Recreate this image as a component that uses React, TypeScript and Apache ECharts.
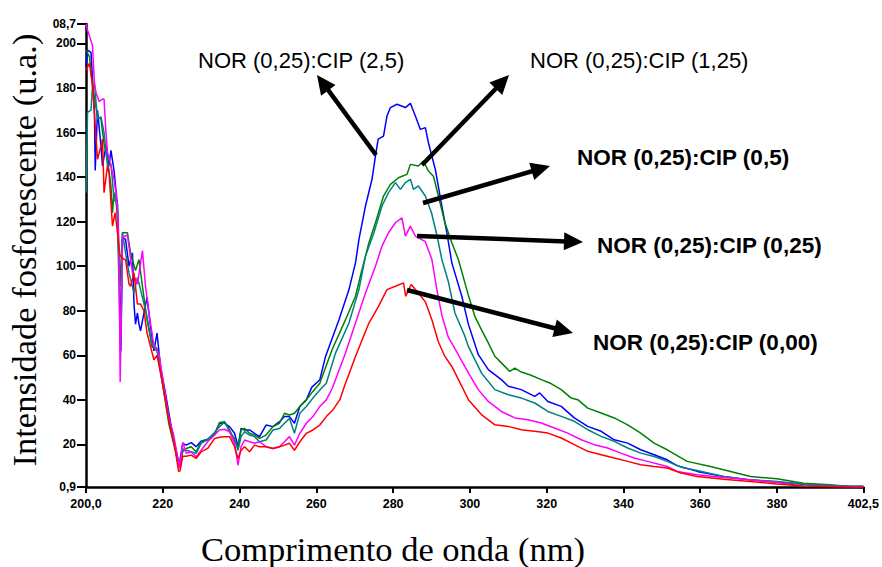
import React, { useEffect, useRef } from "react";
import * as echarts from "echarts";

// ---- Axis ticks ----
const wavelengthTicks = [200, 220, 240, 260, 280, 300, 320, 340, 360, 380, 402.5];
const wavelengthTickLabels = ["200,0", "220", "240", "260", "280", "300", "320", "340", "360", "380", "402,5"];
const intensityTicks = [0.9, 20, 40, 60, 80, 100, 120, 140, 160, 180, 200, 208.7];
const intensityTickLabels = ["0,9", "20", "40", "60", "80", "100", "120", "140", "160", "180", "200", "08,7"];

// ---- Series: [wavelength (nm), intensity (u.a.)] ----
const cip25: number[][] = [
  [200.0, 190], [200.4, 197], [201.3, 196], [202.2, 169], [202.4, 143], [203.0, 170], [203.9, 154], [204.3, 145],
  [205.2, 154], [206.0, 145], [206.5, 152], [207.3, 143], [208.2, 127], [208.8, 91], [209.1, 62], [209.5, 113],
  [210.3, 112], [211.2, 100], [212.1, 106], [212.5, 83], [212.9, 74], [213.4, 79], [213.8, 74], [214.2, 71],
  [215.1, 79], [215.9, 86], [216.8, 73], [217.7, 62], [218.5, 70], [219.4, 55], [220.7, 43], [222.4, 26],
  [224.2, 10], [225.2, 20.5], [226.1, 19.7], [227.4, 20.8], [228.7, 19], [230.0, 21.5], [231.7, 22.3], [233.5, 25],
  [234.8, 29.5], [236.1, 29.5], [237.4, 28], [238.7, 25], [239.6, 19], [240.4, 27.2], [241.3, 26.5], [242.6, 26.5],
  [243.9, 25], [245.2, 23.5], [246.9, 28.7], [248.7, 28], [250.4, 30.2], [251.7, 32.5], [253.0, 32.5], [254.3, 29.5],
  [255.7, 37], [257.4, 40], [258.8, 45.6], [260.9, 49], [262.4, 59.5], [265.9, 76], [268.5, 89.5], [270.2, 101.5],
  [271.1, 112], [272.8, 127], [274.5, 139], [275.4, 149.4], [276.1, 157], [277.5, 158.4], [278.4, 167.4], [279.3, 171.2],
  [281.0, 172.7], [283.2, 171.2], [284.5, 173.1], [285.8, 167.4], [287.1, 161.4], [288.4, 162.2], [289.2, 155.4], [291.0, 143.4],
  [292.7, 127], [294.0, 115], [295.3, 101.5], [297.9, 86.5], [299.6, 74], [302.2, 60.3], [304.8, 53.6], [308.2, 49.1],
  [310.0, 46.1], [313.4, 44.6], [316.9, 41.6], [318.2, 43.1], [320.3, 39.3], [323.8, 37.1], [327.2, 31.9], [330.7, 28.1],
  [334.2, 25.9], [337.6, 22.1], [341.1, 20.6], [344.5, 17.6], [348.0, 15.4], [351.4, 13.1], [354.0, 10.5], [359.2, 7.9],
  [366.1, 5.6], [373.0, 4.1], [380.0, 3.1], [388.6, 1.9], [397.3, 1.1], [402.5, 0.9],
];

const cip125: number[][] = [
  [200.0, 197], [200.9, 194], [201.7, 181], [203.0, 167], [203.9, 166], [204.7, 155], [205.6, 148], [206.5, 136],
  [206.9, 124], [207.3, 133], [207.8, 130], [208.2, 121], [208.8, 91], [209.5, 115], [210.8, 115], [211.6, 106],
  [212.9, 98], [213.8, 103], [214.7, 91], [215.9, 76], [217.2, 64], [218.5, 62], [219.8, 48.6], [221.6, 29],
  [223.3, 17], [224.1, 11], [224.4, 9.8], [225.2, 16.7], [226.1, 18.2], [227.4, 19], [228.7, 16.7], [230.0, 21.2],
  [231.7, 22], [233.5, 24.2], [234.8, 29.8], [236.1, 30.2], [237.4, 26.5], [238.7, 22], [239.6, 18.2], [240.4, 26.5],
  [241.3, 27.2], [242.6, 25], [243.9, 24.2], [245.2, 22.7], [246.9, 24.2], [248.7, 28], [250.4, 29.5], [251.7, 34],
  [253.0, 33.2], [254.3, 34], [255.7, 37], [257.4, 40], [259.1, 43.8], [260.9, 47.5], [264.1, 62.5], [267.6, 76],
  [270.2, 86.5], [271.9, 98.5], [273.7, 110.5], [275.4, 119.5], [277.5, 131.5], [279.3, 136.7], [281.4, 139.7], [283.6, 141.2],
  [284.5, 145.7], [286.6, 145], [287.9, 147.2], [289.2, 142.7], [290.5, 140.4], [291.8, 131.5], [293.5, 119.5], [295.3, 110.5],
  [297.0, 103], [299.6, 87], [301.3, 77.5], [303.0, 71.5], [304.8, 65.6], [306.5, 59.6], [308.2, 56.6], [310.4, 52.8],
  [311.7, 54.3], [313.4, 52.5], [315.6, 51.3], [318.6, 49.1], [320.8, 47.6], [323.8, 44.6], [326.4, 40.8], [328.1, 40.1],
  [330.7, 36.3], [334.2, 34.1], [337.6, 31.9], [341.1, 28.8], [344.5, 25.1], [348.0, 20.6], [351.4, 17.6], [356.6, 12.4],
  [362.7, 10.1], [367.9, 7.9], [373.1, 5.6], [380.0, 4.6], [386.9, 2.6], [393.8, 1.9], [399.0, 1.1], [402.5, 1.0],
];

const cip05: number[][] = [
  [200.0, 133], [200.4, 169], [201.3, 170], [201.7, 181], [202.2, 182], [203.0, 166], [203.9, 167], [204.7, 160],
  [205.6, 145], [206.5, 146], [207.3, 130], [208.2, 128], [208.4, 106], [209.0, 61], [209.5, 115], [210.3, 106],
  [211.2, 97], [212.5, 88], [213.4, 95], [214.7, 86], [215.9, 77], [217.2, 65], [218.5, 63], [219.8, 48.6],
  [221.6, 32], [223.3, 18.6], [224.1, 12.5], [224.3, 9.6], [225.2, 18], [226.1, 17.4], [227.4, 16.7], [228.7, 16],
  [230.0, 20.5], [231.7, 22.3], [233.5, 25.3], [234.8, 28], [236.1, 30.2], [237.4, 25.7], [238.7, 22.7], [239.6, 17.4],
  [240.4, 23.5], [241.3, 25.7], [242.6, 24.2], [243.9, 23.5], [245.2, 21.2], [246.9, 22], [248.7, 26.5], [250.4, 27.2],
  [251.7, 29.5], [253.0, 31.7], [254.3, 25], [255.7, 34], [257.4, 37], [259.1, 40.8], [261.2, 45], [262.6, 47.5],
  [265.0, 61], [268.5, 74.5], [271.1, 89.5], [272.8, 104.5], [275.0, 115], [277.1, 127], [278.8, 133], [280.6, 137.5],
  [281.9, 134.5], [283.2, 137.5], [284.5, 139], [285.3, 134.5], [286.6, 136], [288.4, 131.5], [290.0, 124], [291.4, 114],
  [292.7, 103], [294.4, 93], [296.1, 79], [298.7, 68.6], [299.6, 64], [303.0, 52.1], [306.5, 44.6], [310.0, 42.3],
  [313.4, 40.8], [316.9, 38.6], [320.3, 34.8], [323.8, 32.6], [327.2, 30.4], [330.7, 26.6], [334.2, 23.6], [337.6, 21.4],
  [341.1, 18.4], [344.5, 16.1], [348.0, 14.6], [351.4, 12.4], [355.0, 9.8], [359.2, 8.3], [366.1, 5.6], [373.0, 4.1],
  [380.0, 3.4], [388.6, 1.9], [397.3, 1.4], [402.5, 1.4],
];

const cip025: number[][] = [
  [200.0, 208.7], [200.4, 206], [201.7, 199], [202.2, 182], [202.6, 178], [203.4, 174], [204.3, 175], [204.7, 175],
  [205.2, 160], [205.6, 151], [206.5, 145], [207.3, 139], [207.8, 133], [208.2, 125], [208.4, 121], [208.6, 106],
  [208.9, 48], [209.2, 80], [209.5, 113], [210.8, 114], [212.1, 97], [213.4, 92], [214.7, 107], [215.5, 91],
  [216.4, 79], [217.7, 64], [219.0, 61], [220.3, 46], [221.6, 32], [222.8, 24.5], [224.4, 9.2], [225.2, 21],
  [226.1, 16], [227.4, 16.7], [228.7, 14.4], [230.0, 17.4], [231.7, 21.2], [233.5, 24.2], [234.8, 26.5], [236.1, 26.8],
  [237.4, 25.7], [238.7, 20.5], [239.6, 10.7], [240.4, 19], [241.3, 22], [242.6, 21.2], [243.9, 20.5], [245.2, 21.2],
  [246.9, 19], [248.7, 18.2], [250.4, 19], [251.7, 21.2], [253.0, 23.5], [254.3, 19.7], [255.7, 25], [257.4, 29.5],
  [259.1, 32.5], [260.9, 37], [262.6, 40], [264.1, 45], [267.6, 61], [270.2, 74.5], [272.8, 88], [275.4, 100],
  [277.1, 109], [278.8, 115], [280.6, 119.5], [282.3, 121.7], [283.2, 113.5], [284.5, 118], [285.8, 113.5], [288.4, 111],
  [290.1, 103], [291.4, 89.5], [292.7, 78], [294.4, 68], [296.1, 63], [299.6, 52.1], [302.2, 44.6], [304.8, 39.3],
  [308.2, 34.8], [311.7, 31.9], [315.1, 31.1], [318.6, 29.6], [322.0, 27.4], [325.5, 25.1], [329.0, 22.1], [332.4, 19.9],
  [335.9, 18.4], [339.3, 16.1], [342.8, 13.9], [346.3, 12.4], [351.4, 10.1], [354.0, 7.9], [359.2, 6.4], [366.1, 5.2],
  [373.0, 4.1], [380.0, 2.9], [386.9, 1.4], [396.4, 1.1], [402.5, 0.9],
];

const cip000: number[][] = [
  [200.0, 188], [200.9, 191], [201.7, 181], [202.6, 158], [203.0, 148], [203.9, 154], [204.3, 157], [204.7, 133],
  [205.6, 145], [206.0, 142], [206.9, 118], [207.6, 124], [208.2, 115], [208.8, 105], [209.9, 103], [210.3, 103],
  [211.2, 92], [211.6, 91], [212.5, 97], [213.4, 83], [214.2, 83], [215.1, 80], [215.9, 70], [217.7, 58],
  [218.5, 60], [219.8, 48.6], [221.6, 30.8], [223.3, 17], [224.1, 8], [224.5, 8.1], [225.2, 14.7], [226.1, 14.7],
  [227.4, 15.2], [228.7, 13.7], [230.0, 16.7], [231.7, 18.2], [233.5, 22.7], [234.8, 23.2], [236.1, 23.5], [237.4, 23.5],
  [238.7, 19], [239.6, 13.7], [240.4, 17.4], [241.3, 19], [242.6, 16.7], [243.9, 19.7], [245.2, 19], [246.9, 19],
  [248.7, 18.2], [250.4, 19], [251.7, 19.7], [253.0, 20.5], [254.3, 17.4], [255.7, 21.2], [257.4, 25], [259.1, 26.5],
  [260.9, 28.7], [262.6, 32.5], [264.3, 35.5], [266.1, 40], [267.3, 46], [270.2, 59.5], [273.7, 74.5], [276.2, 82],
  [278.4, 89.5], [280.6, 91], [282.7, 92.5], [283.3, 86.5], [284.7, 91.8], [286.6, 88], [288.4, 84], [290.1, 76],
  [291.8, 66], [293.5, 59.5], [295.3, 55], [297.9, 46.1], [299.6, 40.1], [303.0, 33.4], [306.5, 28.8], [310.0, 28.1],
  [313.4, 26.6], [316.9, 25.9], [320.3, 25.1], [323.8, 22.9], [327.2, 19.9], [330.7, 16.9], [334.2, 15.4], [337.6, 13.9],
  [341.1, 12.4], [344.5, 10.9], [348.0, 10.1], [351.4, 9.4], [355.0, 7.2], [359.2, 5.6], [366.1, 4.4], [373.0, 3.4],
  [380.0, 2.3], [386.9, 1.4], [396.4, 0.9], [402.5, 0.9],
];

const seriesNames = [
  "NOR (0,25):CIP (2,5)",
  "NOR (0,25):CIP (1,25)",
  "NOR (0,25):CIP (0,5)",
  "NOR (0,25):CIP (0,25)",
  "NOR (0,25):CIP (0,00)",
];
const seriesColors = ["#0000FF", "#008000", "#008080", "#FF00FF", "#FF0000"];
const seriesData = [cip25, cip125, cip05, cip025, cip000];

const SANS = "'Liberation Sans', Arial, sans-serif";
const SERIF = "'Liberation Serif', 'Times New Roman', serif";

function labelFor(ticks: number[], labels: string[]) {
  return (v: number) => {
    const i = ticks.findIndex((t) => Math.abs(t - v) < 1e-6);
    return i >= 0 ? labels[i] : "";
  };
}

// annotation layout (pixels)
const annotations = [
  { text: seriesNames[0], x: 198, y: 60, bold: false, size: 22, from: [376, 155], to: [317, 75] },
  { text: seriesNames[1], x: 530, y: 60, bold: false, size: 22, from: [422, 165], to: [509, 75] },
  { text: seriesNames[2], x: 577, y: 157, bold: true, size: 22.5, from: [423, 203], to: [550, 166] },
  { text: seriesNames[3], x: 597, y: 245, bold: true, size: 22.5, from: [417, 236], to: [583, 242] },
  { text: seriesNames[4], x: 593, y: 342, bold: true, size: 22.5, from: [407, 290], to: [573, 333] },
];

function arrowElements(from: number[], to: number[]) {
  const dx = to[0] - from[0];
  const dy = to[1] - from[1];
  const len = Math.sqrt(dx * dx + dy * dy);
  const ux = dx / len;
  const uy = dy / len;
  const headL = 19;
  const headW = 9;
  const bx = to[0] - ux * headL;
  const by = to[1] - uy * headL;
  const px = -uy;
  const py = ux;
  return [
    {
      type: "line",
      shape: { x1: from[0], y1: from[1], x2: bx + ux * 2, y2: by + uy * 2 },
      style: { stroke: "#000", lineWidth: 4.5 },
      z: 100,
    },
    {
      type: "polygon",
      shape: {
        points: [
          [to[0], to[1]],
          [bx + px * headW, by + py * headW],
          [bx - px * headW, by - py * headW],
        ],
      },
      style: { fill: "#000" },
      z: 100,
    },
  ];
}

export default function App() {
  const ref = useRef<HTMLDivElement>(null);

  useEffect(() => {
    if (!ref.current) return;
    const chart = echarts.init(ref.current, undefined, { renderer: "svg" });

    const graphics: any[] = [];
    annotations.forEach((a) => {
      graphics.push(...arrowElements(a.from, a.to));
      graphics.push({
        type: "text",
        x: a.x,
        y: a.y,
        z: 100,
        style: {
          text: a.text,
          fill: "#000",
          font: `${a.bold ? "bold " : ""}${a.size}px ${SANS}`,
          textAlign: "left",
          textVerticalAlign: "middle",
        },
      });
    });
    graphics.push({
      type: "text",
      x: 24,
      y: 250,
      rotation: Math.PI / 2,
      style: {
        text: "Intensidade fosforescente (u.a.)",
        fill: "#000",
        font: `34.5px ${SERIF}`,
        textAlign: "center",
        textVerticalAlign: "middle",
      },
    });
    graphics.push({
      type: "text",
      x: 393,
      y: 549,
      style: {
        text: "Comprimento de onda (nm)",
        fill: "#000",
        font: `34.5px ${SERIF}`,
        textAlign: "center",
        textVerticalAlign: "middle",
      },
    });

    chart.setOption({
      animation: false,
      backgroundColor: "#fff",
      grid: { left: 86, top: 24, width: 781, height: 463, containLabel: false },
      xAxis: {
        type: "value",
        min: 200,
        max: 402.5,
        splitLine: { show: false },
        axisLine: { show: true, onZero: false, lineStyle: { color: "#000", width: 2.5 } },
        axisTick: {
          show: true,
          customValues: wavelengthTicks,
          length: 6,
          lineStyle: { color: "#000", width: 2 },
        },
        axisLabel: {
          customValues: wavelengthTicks,
          formatter: labelFor(wavelengthTicks, wavelengthTickLabels),
          color: "#000",
          fontFamily: SANS,
          fontWeight: "bold",
          fontSize: 12.5,
          margin: 10,
          showMinLabel: true,
          showMaxLabel: true,
        },
      },
      yAxis: {
        type: "value",
        min: 0.9,
        max: 208.7,
        splitLine: { show: false },
        axisLine: { show: true, onZero: false, lineStyle: { color: "#000", width: 2.5 } },
        axisTick: {
          show: true,
          customValues: intensityTicks,
          length: 9,
          lineStyle: { color: "#000", width: 2 },
        },
        axisLabel: {
          customValues: intensityTicks,
          formatter: labelFor(intensityTicks, intensityTickLabels),
          color: "#000",
          fontFamily: SANS,
          fontWeight: "bold",
          fontSize: 12,
          margin: 10,
          showMinLabel: true,
          showMaxLabel: true,
        },
      },
      series: seriesData.map((d, i) => ({
        name: seriesNames[i],
        type: "line",
        data: d,
        showSymbol: false,
        symbol: "none",
        lineStyle: { color: seriesColors[i], width: 1.5 },
        itemStyle: { color: seriesColors[i] },
        z: 2 + i,
      })),
      graphic: graphics,
    });

    return () => chart.dispose();
  }, []);

  return (
    <div
      ref={ref}
      style={{ position: "fixed", left: 0, top: 0, width: 882, height: 567, background: "#fff" }}
    />
  );
}
